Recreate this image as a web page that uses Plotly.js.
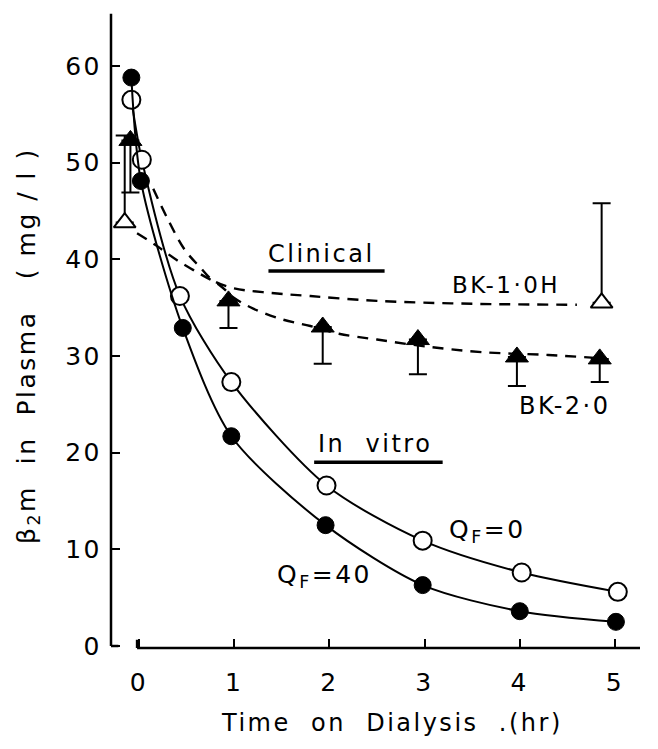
<!DOCTYPE html>
<html><head><meta charset="utf-8">
<script src="https://cdn.plot.ly/plotly-3.0.1.min.js"></script>
<style>html,body{margin:0;padding:0;background:#fff} text{letter-spacing:2.5px}</style>
</head><body><div id="chart" style="width:658px;height:749px"></div>
<script>
// In vitro, Q_F = 0 (open circles)
const qf0X = [-0.08, 0.03, 0.43, 0.97, 1.97, 2.98, 4.02, 5.03];
const qf0Y = [56.5, 50.3, 36.2, 27.3, 16.6, 10.9, 7.6, 5.6];
// In vitro, Q_F = 40 (filled circles)
const qf40X = [-0.08, 0.02, 0.46, 0.97, 1.96, 2.98, 4.0, 5.01];
const qf40Y = [58.8, 48.1, 32.9, 21.7, 12.5, 6.3, 3.6, 2.5];
// Clinical BK-1.0H (open triangles)
const bk1X = [-0.15, 4.86];
const bk1Y = [43.8, 35.5];
const bk1ErrUp = [9.0, 10.3];
// Clinical BK-2.0 (filled triangles)
const bk2X = [-0.09, 0.94, 1.93, 2.93, 3.97, 4.84];
const bk2Y = [52.3, 35.7, 33.0, 31.7, 29.9, 29.7];
const bk2ErrDown = [5.4, 2.8, 3.8, 3.6, 3.0, 2.4];
// Dashed fitted curves
const bk1FitX = [0.15, 0.29, 0.48, 0.64, 0.78, 1.0, 1.3, 1.8, 2.5, 3.5, 4.6];
const bk1FitY = [47.3, 44.4, 41.0, 39.2, 37.8, 37.0, 36.6, 36.2, 35.7, 35.4, 35.3];
const bk2FitX = [-0.02, 0.2, 0.4, 0.64, 0.85, 1.0, 1.2, 1.5, 1.8, 2.1, 2.5, 3.0, 3.6, 4.3, 4.8];
const bk2FitY = [42.7, 41.3, 39.9, 38.5, 37.3, 36.0, 34.9, 33.8, 33.1, 32.3, 31.7, 31.0, 30.4, 30.1, 29.8];
const xTicks = [0, 1, 2, 3, 4, 5];
const yTicks = [0, 10, 20, 30, 40, 50, 60];

const F = 'DejaVu Sans';
const blk = '#000';
const traces = [
  {x: bk1FitX, y: bk1FitY, mode: 'lines', line: {color: blk, width: 2.4, dash: '11px,8px', shape: 'spline'}, hoverinfo: 'skip'},
  {x: bk2FitX, y: bk2FitY, mode: 'lines', line: {color: blk, width: 2.4, dash: '11px,8px', shape: 'spline'}, hoverinfo: 'skip'},
  {x: qf0X, y: qf0Y, mode: 'lines+markers', line: {color: blk, width: 2, shape: 'spline', smoothing: 0.8},
   marker: {symbol: 'circle', size: 18, color: '#fff', line: {color: blk, width: 2}}},
  {x: qf40X, y: qf40Y, mode: 'lines+markers', line: {color: blk, width: 2, shape: 'spline', smoothing: 0.8},
   marker: {symbol: 'circle', size: 17, color: blk, line: {color: blk, width: 1}}},
  {x: bk1X, y: bk1Y, mode: 'markers',
   marker: {symbol: 'triangle-up', size: 19, color: '#fff', line: {color: blk, width: 2}},
   error_y: {type: 'data', symmetric: false, array: bk1ErrUp, arrayminus: [0, 0], color: blk, thickness: 2, width: 9}},
  {x: bk2X, y: bk2Y, mode: 'markers',
   marker: {symbol: 'triangle-up', size: 20, color: blk, line: {color: blk, width: 1}},
   error_y: {type: 'data', symmetric: false, array: [0, 0, 0, 0, 0, 0], arrayminus: bk2ErrDown, color: blk, thickness: 2, width: 9}}
];

const layout = {
  width: 658, height: 749,
  margin: {l: 111, r: 18, t: 13, b: 101},
  paper_bgcolor: '#fff', plot_bgcolor: '#fff',
  showlegend: false,
  font: {family: F, color: blk},
  xaxis: {range: [-0.294, 5.263], tickvals: xTicks, ticktext: xTicks.map(String),
    ticks: 'inside', ticklen: 9, tickwidth: 2, tickcolor: blk, showline: false, showgrid: false, zeroline: false,
    tickfont: {family: F, size: 25, color: blk}, ticklabelstandoff: 17},
  yaxis: {range: [-0.207, 65.48], tickvals: yTicks, ticktext: yTicks.map(String),
    ticks: 'inside', ticklen: 9, tickwidth: 2, tickcolor: blk, showline: false, showgrid: false, zeroline: false,
    tickfont: {family: F, size: 25, color: blk}, ticklabelstandoff: 8},
  shapes: [
    {type: 'line', xref: 'paper', yref: 'y', x0: 0, x1: 0, y0: 0, y1: 65.4, line: {color: blk, width: 2.5}},
    {type: 'line', xref: 'paper', yref: 'y', x0: 0, x1: 0.014, y0: 0, y1: 0, line: {color: blk, width: 2.5}},
    {type: 'line', xref: 'x', yref: 'paper', x0: -0.02, x1: 5.263, y0: 0, y1: 0, line: {color: blk, width: 2.5}},
    {type: 'line', xref: 'x', yref: 'paper', x0: -0.02, x1: -0.02, y0: 0, y1: 0.013, line: {color: blk, width: 2.5}},
    {type: 'line', xref: 'x', yref: 'y', x0: 1.36, x1: 2.58, y0: 38.8, y1: 38.8, line: {color: blk, width: 3.5}},
    {type: 'line', xref: 'x', yref: 'y', x0: 1.84, x1: 3.19, y0: 19.0, y1: 19.0, line: {color: blk, width: 3.5}}
  ],
  annotations: [
    {xref: 'paper', yref: 'paper', x: -0.157, y: 0.477, textangle: -90, showarrow: false, xanchor: 'center', yanchor: 'middle',
     text: '\u03b2<sub>2</sub>m\u00a0 in\u00a0 Plasma\u00a0\u00a0 (\u00a0mg\u00a0/\u00a0l\u00a0)', font: {family: F, size: 25, color: blk}},
    {xref: 'paper', yref: 'paper', x: 0.531, y: -0.118, showarrow: false, xanchor: 'center', yanchor: 'middle',
     text: 'Time\u00a0 on\u00a0 Dialysis\u00a0 .(hr)', font: {family: F, size: 24, color: blk}},
    {x: 1.92, y: 40.6, text: 'Clinical', showarrow: false, font: {family: F, size: 24, color: blk}},
    {x: 2.48, y: 20.9, text: 'In\u00a0 vitro', showarrow: false, font: {family: F, size: 24, color: blk}},
    {x: 3.86, y: 37.3, text: 'BK-1\u00b70H', showarrow: false, font: {family: F, size: 23, color: blk}},
    {x: 4.47, y: 24.8, text: 'BK-2\u00b70', showarrow: false, font: {family: F, size: 24, color: blk}},
    {x: 3.66, y: 11.9, text: 'Q<sub>F</sub>=0', showarrow: false, font: {family: F, size: 25, color: blk}},
    {x: 1.95, y: 7.2, text: 'Q<sub>F</sub>=40', showarrow: false, font: {family: F, size: 25, color: blk}}
  ]
};

Plotly.newPlot('chart', traces, layout, {staticPlot: true, displayModeBar: false});
</script>
</body></html>
